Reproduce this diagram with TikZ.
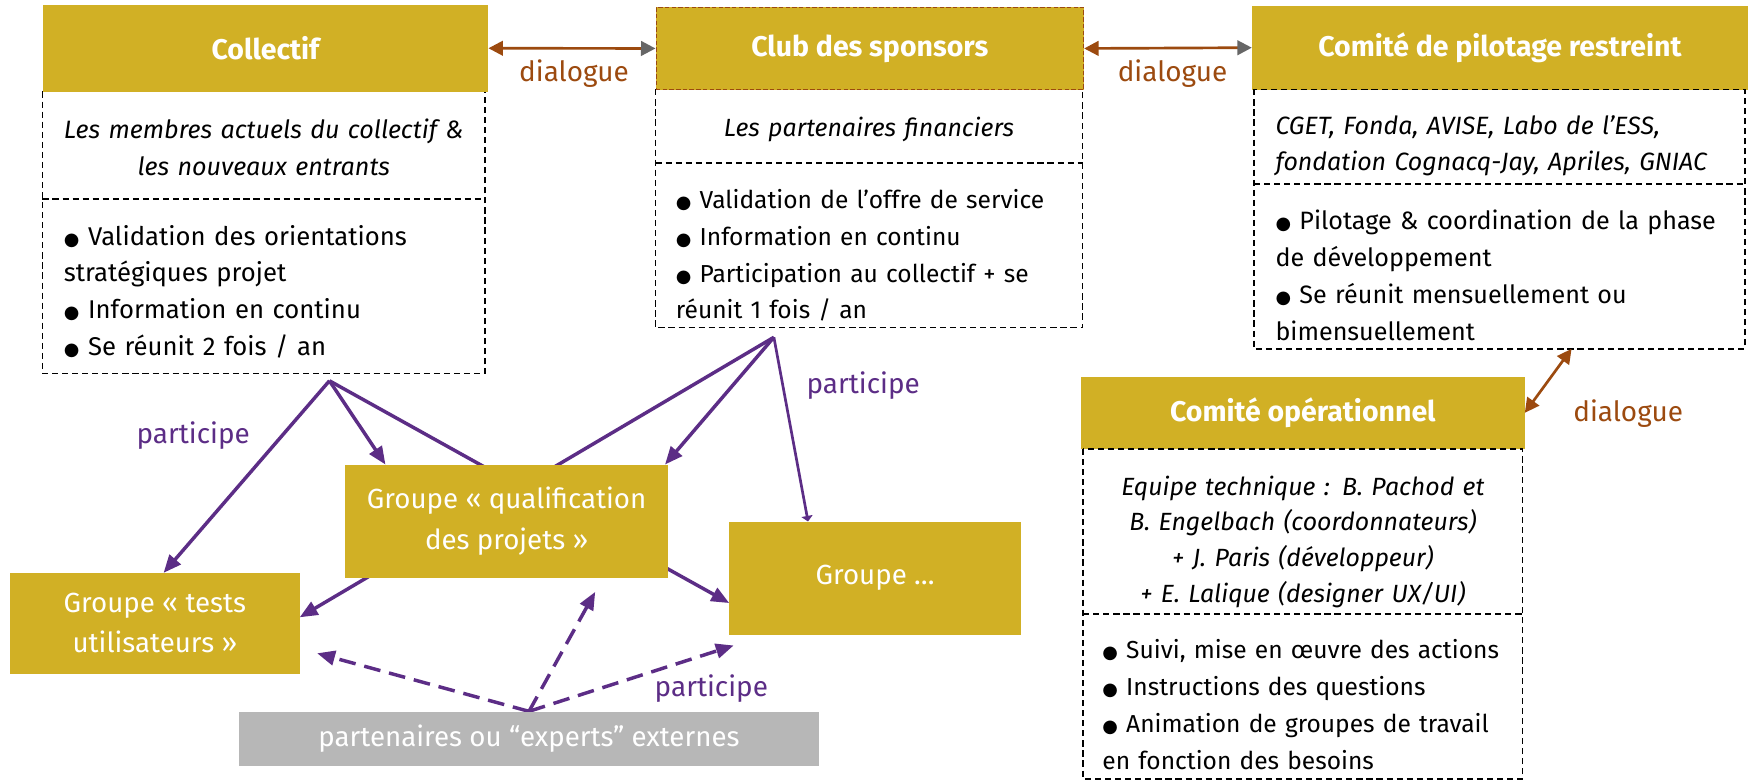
\documentclass[tikz,border=0pt]{standalone}
\usepackage{fontspec}
\usepackage{graphicx}
\setmainfont{Fira Sans}
\newfontfamily\symf{DejaVu Sans}
\usetikzlibrary{arrows.meta,calc}
\definecolor{gold}{RGB}{209,176,37}
\definecolor{dbrown}{RGB}{156,74,15}
\definecolor{dgray}{RGB}{102,102,102}
\definecolor{purp}{RGB}{92,45,134}
\definecolor{lgray}{RGB}{183,183,183}
\newcommand{\mybul}{{\symf\fontsize{16}{16}\selectfont ●}\ }
\pgfdeclarelayer{bg}
\pgfsetlayers{bg,main}
\tikzset{
  hdr/.style={fill=gold, text=white, font=\bfseries\fontsize{25.5}{28}\selectfont, anchor=north west, inner sep=0pt},
  sect/.style={anchor=north west, inner sep=0pt},
  dsh/.style={draw=black, line width=1.4pt, dash pattern=on 5.5pt off 3.5pt},
  tx/.style={inner sep=0pt, anchor=west, align=left, font=\fontsize{22}{33}\selectfont},
  itx/.style={inner sep=0pt, font=\itshape\fontsize{22.3}{33}\selectfont},
  grpbox/.style={fill=gold, text=white, anchor=north west, inner sep=0pt, align=center, font=\fontsize{24.8}{36}\selectfont},
  pa/.style={draw=purp, line width=3.1pt, -{Triangle[length=16pt,width=13pt]}},
  pd/.style={pa, dash pattern=on 15pt off 8pt},
  dlg/.style={draw=dbrown, line width=2.4pt, {Triangle[length=13pt,width=13pt]}-{Triangle[length=13pt,width=13pt,color=dgray]}},
  dlgb/.style={draw=dbrown, line width=2.4pt, {Triangle[length=13pt,width=13pt]}-{Triangle[length=13pt,width=13pt]}},
  lbl/.style={font=\fontsize{25}{28}\selectfont, inner sep=0pt},
}
\begin{document}
\begin{tikzpicture}[x=1pt,y=-1pt]
\useasboundingbox (0,0) rectangle (1568,698);

% Collectif
\node[sect, minimum width=396pt, minimum height=96pt] (collA) at (38,82) {};
\node[sect, minimum width=396pt, minimum height=156pt] (collB) at (38,178) {};
\draw[dsh] (collA.north west) rectangle (collB.south east);
\draw[dsh] (collB.north west) -- (collB.north east);
\node[hdr, minimum width=399pt, minimum height=78pt] (coll) at (38,4) {Collectif};
\node[itx, text width=370pt, align=center, font=\itshape\fontsize{22.5}{33}\selectfont] (collAt) at ($(collA.center)+(0,2)$)
  {Les membres actuels du collectif \&\\les nouveaux entrants};
\node[tx, text width=370pt, font=\fontsize{23}{33}\selectfont] (collBt) at ($(collB.west)+(19,5)$)
  {\mybul Validation des orientations\\strat\'egiques projet\\\mybul Information en continu\\\mybul Se r\'eunit 2 fois / an};

% Club des sponsors
\node[sect, minimum width=382pt, minimum height=66pt] (clubA) at (587,80) {};
\node[sect, minimum width=382pt, minimum height=147pt] (clubB) at (587,146) {};
\draw[dsh] (clubA.north west) rectangle (clubB.south east);
\draw[dsh] (clubB.north west) -- (clubB.north east);
\node[hdr, minimum width=383pt, minimum height=74pt, draw=dbrown, line width=0.8pt, dash pattern=on 4pt off 2pt] (club) at (587,6) {Club des sponsors};
\node[itx, text width=360pt, align=center] (clubAt) at ($(clubA.center)+(0,3)$) {Les partenaires financiers};
\node[tx, text width=360pt] (clubBt) at ($(clubB.west)+(18,9)$)
  {\mybul Validation de l’offre de service\\\mybul Information en continu\\\mybul Participation au collectif + se\\r\'eunit 1 fois / an};

% Comite de pilotage
\node[sect, minimum width=439pt, minimum height=85pt] (pilA) at (1123,80) {};
\node[sect, minimum width=439pt, minimum height=147pt] (pilB) at (1123,165) {};
\node[hdr, minimum width=444pt, minimum height=75pt] (pil) at (1121,5) {Comit\'e de pilotage restreint};
\draw[dsh] (pilA.north west) rectangle (pilB.south east);
\draw[dsh] (pilB.north west) -- (pilB.north east);
\node[tx, text width=415pt, font=\itshape\fontsize{22.4}{32}\selectfont] (pilAt) at ($(pilA.west)+(19,8)$)
  {CGET, Fonda, AVISE, Labo de l’ESS,\\fondation Cognacq-Jay, Apriles, GNIAC};
\node[tx, text width=415pt, font=\fontsize{22.5}{33}\selectfont] (pilBt) at ($(pilB.west)+(19,8)$)
  {\mybul Pilotage \& coordination de la phase\\de d\'eveloppement\\\mybul Se r\'eunit mensuellement ou\\bimensuellement};

% Comite operationnel
\node[sect, minimum width=393pt, minimum height=148pt] (opA) at (970,402) {};
\node[sect, minimum width=393pt, minimum height=147pt] (opB) at (970,550) {};
\node[hdr, minimum width=397pt, minimum height=65pt] (op) at (968,337) {Comit\'e op\'erationnel};
\draw[dsh] (opA.north west) rectangle (opB.south east);
\draw[dsh] (opB.north west) -- (opB.north east);
\node[itx, text width=370pt, align=center, font=\itshape\fontsize{22.3}{32}\selectfont] (opAt) at ($(opA.center)+(0,9)$)
  {Equipe technique : B. Pachod et\\B. Engelbach (coordonnateurs)\\+ J. Paris (d\'eveloppeur)\\+ E. Lalique (designer UX/UI)};
\node[tx, text width=375pt] (opBt) at ($(opB.west)+(17,7)$)
  {\mybul Suivi, mise en \oe uvre des actions\\\mybul Instructions des questions\\\mybul Animation de groupes de travail\\en fonction des besoins};

% Groups
\node[grpbox, minimum width=259pt, minimum height=90pt] (tests) at (9,513) {Groupe «~tests\\utilisateurs~»};
\node[grpbox, minimum width=289pt, minimum height=101pt] (qual) at (309,416) {Groupe «~qualification\\des projets~»};
\node[grpbox, minimum width=261pt, minimum height=101pt] (grp) at (653,467) {Groupe …};
\node[grpbox, fill=lgray, minimum width=519pt, minimum height=49pt] (part) at (214,637) {partenaires ou “experts” externes};

% coordinates
\coordinate (cs) at (295,341);
\coordinate (ks) at (693,302);
\coordinate (e1) at (284,585);
\coordinate (e2) at (533,530);
\coordinate (e3) at (657,578);

\begin{pgfonlayer}{bg}
\fill[white] (0,0) rectangle (1568,698);
\draw[pa] (cs) -- ($(tests.north west)!0.53!(tests.north east)$);
\draw[pa] (cs) -- ($(qual.north west)!0.125!(qual.north east)$);
\draw[pa] (cs) -- ($(grp.north west)!0.72!(grp.south west)$);
\draw[pa] (ks) -- ($(tests.north east)!0.44!(tests.south east)$);
\draw[pa] (ks) -- ($(qual.north west)!0.99!(qual.north east)$);
\draw[draw=purp, line width=2.4pt, -{Triangle[length=5pt,width=10pt]}] (ks) -- ($(grp.north west)!0.27!(grp.north east)$);
\draw[pd] (part.north) -- (e1);
\draw[pd] (part.north) -- (e2);
\draw[pd] (part.north) -- (e3);
\end{pgfonlayer}

% dialogue arrows
\draw[dlg] (coll.east) -- (club.west);
\draw[dlg] (club.east) -- (pil.west);
\draw[dlgb] ($(pilB.south west)!0.647!(pilB.south east)$) -- (op.east);

% labels
\node[lbl, text=dbrown] (d1) at (514,66) {dialogue};
\node[lbl, text=dbrown] (d2) at (1050,66) {dialogue};
\node[lbl, text=dbrown] (d3) at (1458,370) {dialogue};
\node[lbl, text=purp] (p1) at (173,390) {participe};
\node[lbl, text=purp] (p2) at (773,345) {participe};
\node[lbl, text=purp] (p3) at (637,617) {participe};
\end{tikzpicture}
\end{document}
